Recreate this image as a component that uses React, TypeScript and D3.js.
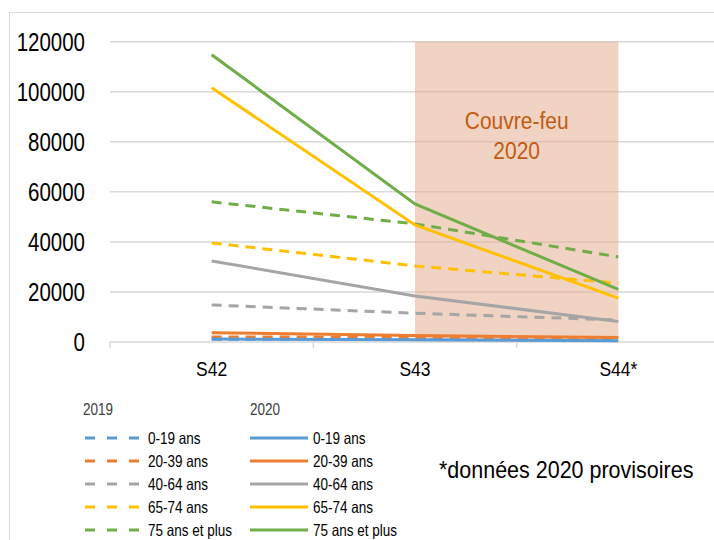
import * as d3 from "d3";
import React from "react";

// weeks
const weeks = ["S42", "S43", "S44*"];
const ageGroups = ["0-19 ans", "20-39 ans", "40-64 ans", "65-74 ans", "75 ans et plus"];
const colors = ["#5B9BD5", "#ED7D31", "#A5A5A5", "#FFC000", "#70AD47"];

// 2019 (dashed)
const y2019_0_19 = [1100, 1000, 900];
const y2019_20_39 = [2000, 1900, 1700];
const y2019_40_64 = [14800, 11500, 8800];
const y2019_65_74 = [39600, 30400, 23500];
const y2019_75 = [56000, 47200, 34000];

// 2020 (solid)
const y2020_0_19 = [1200, 900, 500];
const y2020_20_39 = [3700, 2600, 1800];
const y2020_40_64 = [32400, 18400, 8200];
const y2020_65_74 = [101600, 46800, 17500];
const y2020_75 = [114800, 55200, 21000];

const yTicks = [0, 20000, 40000, 60000, 80000, 100000, 120000];

const series2019 = [y2019_0_19, y2019_20_39, y2019_40_64, y2019_65_74, y2019_75];
const series2020 = [y2020_0_19, y2020_20_39, y2020_40_64, y2020_65_74, y2020_75];

const FONT = "'Liberation Sans', Arial, Helvetica, sans-serif";

// text stretched vertically, like the source picture
const T = ({ x, y, sy = 1.2, children, ...rest }: any) => (
  <text transform={`translate(${x},${y}) scale(1,${sy})`} {...rest}>
    {children}
  </text>
);

const App = () => {
  const width = 714;
  const height = 540;

  const x = d3.scaleBand().domain(weeks).range([110, 720]).paddingInner(0).paddingOuter(0);
  const xc = (w: string) => (x(w) || 0) + x.bandwidth() / 2;
  const y = d3.scaleLinear().domain([0, 120000]).range([342, 41.7]);

  const line = (vals: number[]) =>
    d3.line<number>()
      .x((_, i) => xc(weeks[i]))
      .y((d) => y(d))(vals) || undefined;

  const legendRows = ageGroups.map((_, i) => 438 + i * 23);

  return (
    <svg
      width={width}
      height={height}
      style={{ position: "absolute", left: 0, top: 0, background: "#fff" }}
      fontFamily={FONT}
    >
      {/* outer frame */}
      <rect x={9.5} y={12.5} width={800} height={600} fill="none" stroke="#d9d9d9" strokeWidth={1} />

      {/* gridlines */}
      {yTicks.filter((t) => t > 0).map((t) => (
        <line key={t} x1={110} x2={720} y1={y(t)} y2={y(t)} stroke="#d9d9d9" strokeWidth={1.5} />
      ))}

      {/* couvre-feu shading */}
      <rect
        x={xc("S43")}
        y={y(120000)}
        width={xc("S44*") - xc("S43")}
        height={y(0) - y(120000)}
        fill="#E2A785"
        fillOpacity={0.5}
      />
      <T x={(xc("S43") + xc("S44*")) / 2} y={129} sy={1.12} textAnchor="middle" fontSize={21} fill="#C55A11">
        Couvre-feu
      </T>
      <T x={(xc("S43") + xc("S44*")) / 2} y={159} sy={1.12} textAnchor="middle" fontSize={21} fill="#C55A11">
        2020
      </T>

      {/* x axis */}
      <line x1={110} x2={720} y1={y(0)} y2={y(0)} stroke="#d9d9d9" strokeWidth={1.5} />
      {weeks.map((w) => (
        <line key={w} x1={x(w)} x2={x(w)} y1={y(0)} y2={y(0) + 6} stroke="#d9d9d9" strokeWidth={1.5} />
      ))}
      {weeks.map((w) => (
        <T key={w} x={xc(w)} y={376} sy={1.2} textAnchor="middle" fontSize={17.5} fill="#000">
          {w}
        </T>
      ))}

      {/* y labels */}
      {yTicks.map((t) => (
        <T key={t} x={85} y={y(t)} sy={1.25} dy="0.358em" textAnchor="end" fontSize={20.5} fill="#000">
          {t}
        </T>
      ))}

      {/* 2019 dashed lines */}
      {series2019.map((s, i) => (
        <path key={"a" + i} d={line(s)} fill="none" stroke={colors[i]} strokeWidth={3} strokeDasharray="10,7" />
      ))}
      {/* 2020 solid lines */}
      {series2020.map((s, i) => (
        <path key={"b" + i} d={line(s)} fill="none" stroke={colors[i]} strokeWidth={3} />
      ))}

      {/* legend */}
      <T x={83} y={415} sy={1.25} fontSize={13.5} fill="#404040">2019</T>
      <T x={250} y={415} sy={1.25} fontSize={13.5} fill="#404040">2020</T>
      {ageGroups.map((g, i) => (
        <g key={g}>
          <line x1={85} x2={142} y1={legendRows[i]} y2={legendRows[i]} stroke={colors[i]} strokeWidth={3} strokeDasharray="10,12" />
          <T x={148} y={legendRows[i] + 6} sy={1.25} fontSize={13.5} fill="#000">{g}</T>
          <line x1={250} x2={308} y1={legendRows[i]} y2={legendRows[i]} stroke={colors[i]} strokeWidth={3} />
          <T x={313} y={legendRows[i] + 6} sy={1.25} fontSize={13.5} fill="#000">{g}</T>
        </g>
      ))}

      <T x={439} y={478} sy={1.08} fontSize={21.5} fill="#000">*données 2020 provisoires</T>
    </svg>
  );
};

export default App;
